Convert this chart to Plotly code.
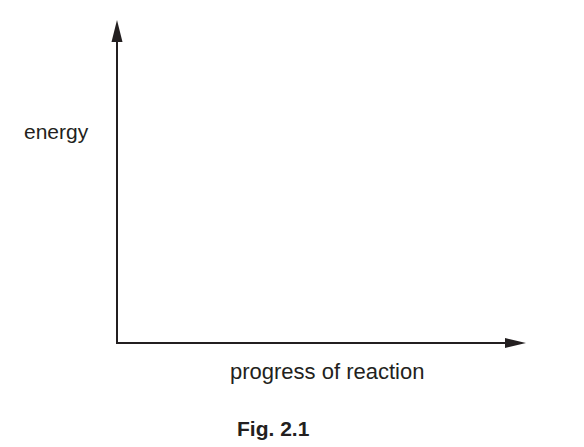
import plotly.graph_objects as go

# blank energy profile frame (no curve drawn in the reference)
y_label = "energy"
x_label = "progress of reaction"
caption = "Fig. 2.1"

W, H = 584, 447
PAGE_PAD = 8  # browser body margin around the plot div

# frame geometry in pixel units of the picture (origin top-left)
origin = (117, 343)
x_tip = 526
y_tip = 20
head_len_v, head_half_v = 22, 5.5
head_len_h, head_half_h = 21, 5

fig = go.Figure()

ink = "#231f20"

# vertical axis line + arrowhead
fig.add_shape(type="line", x0=origin[0], y0=origin[1], x1=origin[0], y1=y_tip + head_len_v - 1,
              line=dict(color=ink, width=2))
fig.add_shape(type="path",
              path=f"M {origin[0]},{y_tip} L {origin[0]-head_half_v},{y_tip+head_len_v} "
                   f"L {origin[0]+head_half_v},{y_tip+head_len_v} Z",
              fillcolor=ink, line=dict(color=ink, width=0))

# horizontal axis line + arrowhead
fig.add_shape(type="line", x0=origin[0] - 1, y0=origin[1], x1=x_tip - head_len_h + 1, y1=origin[1],
              line=dict(color=ink, width=2))
fig.add_shape(type="path",
              path=f"M {x_tip},{origin[1]} L {x_tip-head_len_h},{origin[1]-head_half_h} "
                   f"L {x_tip-head_len_h},{origin[1]+head_half_h} Z",
              fillcolor=ink, line=dict(color=ink, width=0))

family = "Liberation Sans, Arial, sans-serif"

fig.add_annotation(x=56, y=131, text=y_label, showarrow=False,
                   font=dict(family=family, size=21, color=ink),
                   xanchor="center", yanchor="middle")
fig.add_annotation(x=327, y=371, text=x_label, showarrow=False,
                   font=dict(family=family, size=22, color=ink),
                   xanchor="center", yanchor="middle")
fig.add_annotation(x=273, y=428, text=f"<b>{caption}</b>", showarrow=False,
                   font=dict(family=family, size=21, color=ink),
                   xanchor="center", yanchor="middle")

fig.update_xaxes(range=[PAGE_PAD, W + PAGE_PAD], visible=False, fixedrange=True)
fig.update_yaxes(range=[H + PAGE_PAD, PAGE_PAD], visible=False, fixedrange=True)
fig.update_layout(
    width=W, height=H,
    margin=dict(l=0, r=0, t=0, b=0),
    paper_bgcolor="white",
    plot_bgcolor="white",
    showlegend=False,
)

fig.write_html("out.html")
